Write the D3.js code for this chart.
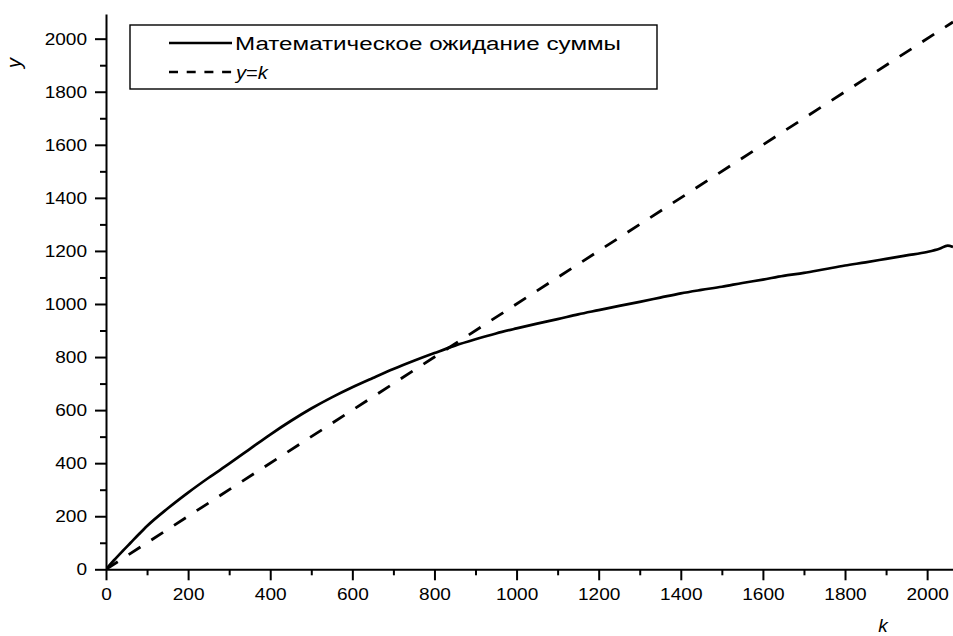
<!DOCTYPE html>
<html>
<head>
<meta charset="utf-8">
<script src="https://cdn.jsdelivr.net/npm/d3@7"></script>
<style>
  html, body { margin: 0; padding: 0; background: #fff; }
  svg { display: block; }
  text { font-family: "Liberation Sans", Arial, sans-serif; fill: #000; }
</style>
</head>
<body>
<svg id="chart" width="953" height="636"></svg>
<script>
// Expected value of the sum versus k
const kValues = [0, 20, 40, 60, 80, 100, 150, 200, 250, 300, 350, 400, 450, 500, 550, 600,
  650, 700, 750, 800, 850, 900, 950, 1000, 1050, 1100, 1150, 1200, 1250, 1300, 1350, 1400,
  1450, 1500, 1550, 1600, 1650, 1700, 1750, 1800, 1850, 1900, 1950, 2000, 2030, 2050, 2063];
const sumMean = [0, 35, 68, 100, 132, 163, 229, 289, 345, 398, 453, 508, 559, 606, 648, 686,
  721, 755, 786, 815, 843, 867, 889, 908, 926, 943, 961, 977, 993, 1008, 1024, 1040,
  1053, 1065, 1079, 1092, 1106, 1117, 1131, 1145, 1157, 1170, 1183, 1196, 1208, 1220, 1215];
// Reference line y = k
const identityK = [0, 2063];

const xMajorTicks = [0, 200, 400, 600, 800, 1000, 1200, 1400, 1600, 1800, 2000];
const xMinorTicks = [100, 300, 500, 700, 900, 1100, 1300, 1500, 1700, 1900];
const yMajorTicks = [0, 200, 400, 600, 800, 1000, 1200, 1400, 1600, 1800, 2000];
const yMinorTicks = [100, 300, 500, 700, 900, 1100, 1300, 1500, 1700, 1900];

const legendLabels = ["Математическое ожидание суммы", "y=k"];

const svg = d3.select("#chart");
const stretch = 1.12; // text is drawn slightly wide

const x = d3.scaleLinear().domain([0, 2063]).range([106, 953]);
const y = d3.scaleLinear().domain([0, 2093]).range([569.3, 14]);

function widen(sel, factor) {
  sel.each(function () {
    const w = this.getComputedTextLength();
    d3.select(this).attr("textLength", w * (factor || stretch)).attr("lengthAdjust", "spacingAndGlyphs");
  });
}

// data lines
const line = d3.line().x(d => x(d[0])).y(d => y(d[1])).curve(d3.curveMonotoneX);
svg.append("clipPath").attr("id", "clip").append("rect")
  .attr("x", 106).attr("y", 0).attr("width", 847).attr("height", 570);
const plot = svg.append("g").attr("clip-path", "url(#clip)");

plot.append("path")
  .datum(identityK.map(k => [k, k]))
  .attr("d", line).attr("fill", "none").attr("stroke", "#000")
  .attr("stroke-width", 2.8).attr("stroke-dasharray", "14,13");

plot.append("path")
  .datum(kValues.map((k, i) => [k, sumMean[i]]))
  .attr("d", line).attr("fill", "none").attr("stroke", "#000")
  .attr("stroke-width", 2.7).attr("stroke-linejoin", "round");

// axes
function styleAxis(g) {
  g.select(".domain").attr("stroke-width", 2);
  g.selectAll(".tick line").attr("stroke-width", 2);
  g.selectAll("text").attr("font-size", 17).attr("font-family", "Liberation Sans, Arial, sans-serif");
}

const gx = svg.append("g").attr("transform", `translate(0,${y(0)})`)
  .call(d3.axisBottom(x).tickValues(xMajorTicks).tickSize(11).tickPadding(8).tickFormat(d3.format("d")).tickSizeOuter(0));
styleAxis(gx);
widen(gx.selectAll("text"));
svg.append("g").attr("transform", `translate(0,${y(0)})`)
  .call(d3.axisBottom(x).tickValues(xMinorTicks).tickSize(6).tickFormat("").tickSizeOuter(0))
  .call(g => { g.select(".domain").remove(); g.selectAll(".tick line").attr("stroke-width", 2); });

const gy = svg.append("g").attr("transform", `translate(${x(0)},0)`)
  .call(d3.axisLeft(y).tickValues(yMajorTicks).tickSize(11).tickPadding(8).tickFormat(d3.format("d")).tickSizeOuter(0));
styleAxis(gy);
widen(gy.selectAll("text"));
svg.append("g").attr("transform", `translate(${x(0)},0)`)
  .call(d3.axisLeft(y).tickValues(yMinorTicks).tickSize(6).tickFormat("").tickSizeOuter(0))
  .call(g => { g.select(".domain").remove(); g.selectAll(".tick line").attr("stroke-width", 2); });

// axis titles
svg.append("text").attr("transform", "translate(21,63) rotate(-90)")
  .attr("text-anchor", "middle").attr("font-size", 20).attr("font-style", "italic").text("y");
svg.append("text").attr("x", 883).attr("y", 632)
  .attr("text-anchor", "middle").attr("font-size", 19).attr("font-style", "italic").text("k");

// legend
const lg = svg.append("g");
lg.append("rect").attr("x", 130).attr("y", 25).attr("width", 527).attr("height", 64)
  .attr("fill", "#fff").attr("stroke", "#000").attr("stroke-width", 1.4);
lg.append("line").attr("x1", 169).attr("x2", 232).attr("y1", 43).attr("y2", 43)
  .attr("stroke", "#000").attr("stroke-width", 2.7);
lg.append("line").attr("x1", 169).attr("x2", 232).attr("y1", 72).attr("y2", 72)
  .attr("stroke", "#000").attr("stroke-width", 2.7).attr("stroke-dasharray", "9,8.7");
lg.append("text").attr("x", 235).attr("y", 50).attr("font-size", 18)
  .attr("textLength", 386).attr("lengthAdjust", "spacingAndGlyphs")
  .text(legendLabels[0]);
const t2 = lg.append("text").attr("x", 236).attr("y", 79).attr("font-size", 18);
t2.append("tspan").attr("font-style", "italic").text("y");
t2.append("tspan").text("=");
t2.append("tspan").attr("font-style", "italic").text("k");
widen(t2);
</script>
</body>
</html>
